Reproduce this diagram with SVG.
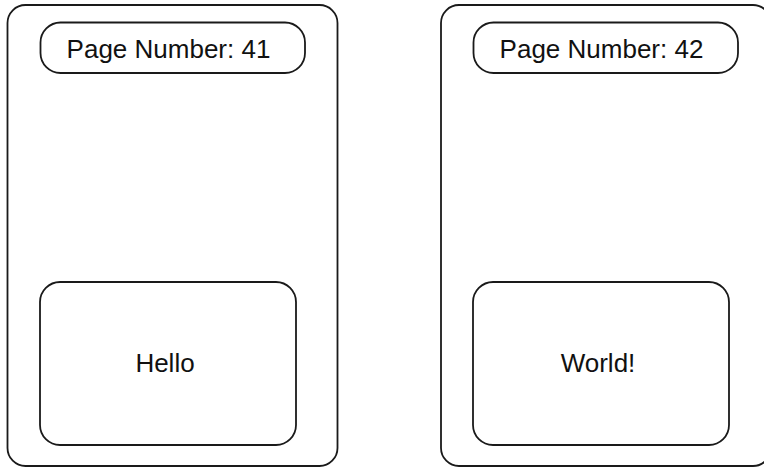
<svg xmlns="http://www.w3.org/2000/svg" width="764" height="467" viewBox="0 0 764 467">
<style>
.shape{fill:#fff;stroke:#1a1a1a;stroke-width:1.8}
.lbl{font-family:"Liberation Sans",Arial,sans-serif;font-size:26px;fill:#111;text-anchor:middle}
</style>
<rect width="764" height="467" fill="#fff"/>
<g id="page41">
<rect class="shape" x="7.5" y="5" width="330" height="461" rx="18" ry="18"/>
<g id="page41-number">
<rect class="shape" x="40.5" y="22.5" width="264.5" height="50.5" rx="20" ry="20"/>
<text class="lbl" x="168.5" y="58">Page Number: 41</text>
</g>
<g id="page41-content">
<rect class="shape" x="40" y="282" width="256" height="163" rx="20" ry="20"/>
<text class="lbl" x="165" y="372">Hello</text>
</g>
</g>
<g id="page42">
<rect class="shape" x="441" y="5" width="330" height="461" rx="18" ry="18"/>
<g id="page42-number">
<rect class="shape" x="473.5" y="22.5" width="264.5" height="50.5" rx="20" ry="20"/>
<text class="lbl" x="601.5" y="58">Page Number: 42</text>
</g>
<g id="page42-content">
<rect class="shape" x="473" y="282" width="256" height="163" rx="20" ry="20"/>
<text class="lbl" x="598" y="372">World!</text>
</g>
</g>
<g id="connectors"></g>
</svg>
